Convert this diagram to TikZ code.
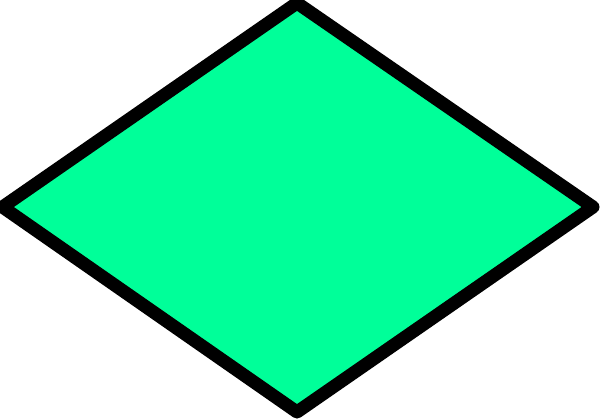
\documentclass[tikz,border=0pt]{standalone}
\definecolor{mint}{RGB}{0,255,153}
\begin{document}
\begin{tikzpicture}[x=1pt,y=-1pt,
  shapeline/.style={draw=black,fill=mint,line width=13pt,line join=round}]
\useasboundingbox (0,0) rectangle (600,419);
\begin{scope}
\clip (0,0) rectangle (600,419);
\coordinate (l) at (2.5,207);
\coordinate (t) at (297,3);
\coordinate (r) at (593,207);
\coordinate (b) at (297,412);
\path[shapeline] (l) -- (t) -- (r) -- (b) -- cycle;
\end{scope}
\end{tikzpicture}
\end{document}
